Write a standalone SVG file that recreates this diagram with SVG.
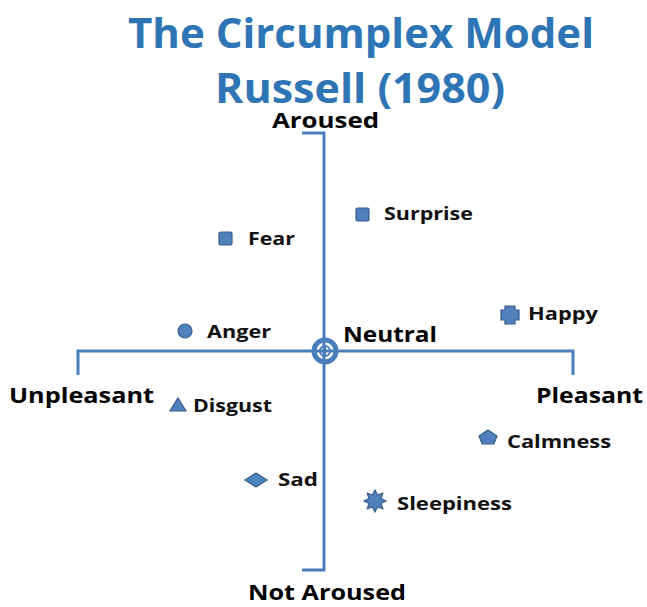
<svg xmlns="http://www.w3.org/2000/svg" width="647" height="607" viewBox="0 0 647 607">
<style>
.title{font-family:"Open Sans","Liberation Sans",sans-serif;font-weight:bold;font-size:42px;fill:#2E75B6;text-anchor:middle}
.axis{font-family:"Open Sans","Liberation Sans",sans-serif;font-weight:bold;font-size:22px;fill:#000}
.lbl{font-family:"Open Sans","Liberation Sans",sans-serif;font-weight:bold;font-size:18px;fill:#111}
.ax{stroke:#4A7EBB;stroke-width:3;fill:none}
.mk{fill:#4F81BD;stroke:#385D8A;stroke-width:1.2}
</style>
<rect width="647" height="607" fill="#fff"/>
<g id="title">
<text class="title" x="361" y="48" textLength="466" lengthAdjust="spacingAndGlyphs">The Circumplex Model</text>
<text class="title" x="360" y="103" textLength="290" lengthAdjust="spacingAndGlyphs">Russell (1980)</text>
</g>
<g id="connectors">
<polyline class="ax" points="302,133 324,133 324,570 302,570"/>
<polyline class="ax" points="78,375 78,351 573,351 573,375"/>
</g>
<g id="neutral">
<circle cx="325" cy="351" r="11" fill="none" stroke="#4A7EBB" stroke-width="5"/>
<circle cx="325" cy="351" r="5" fill="none" stroke="#4A7EBB" stroke-width="2"/>
<line x1="320" y1="351" x2="330" y2="351" stroke="#4A7EBB" stroke-width="2"/>
<line x1="325" y1="346" x2="325" y2="356" stroke="#4A7EBB" stroke-width="2"/>
<text class="axis" x="343" y="342" textLength="94" lengthAdjust="spacingAndGlyphs">Neutral</text>
</g>
<g id="aroused"><text class="axis" x="272" y="128" textLength="107" lengthAdjust="spacingAndGlyphs">Aroused</text></g>
<g id="not-aroused"><text class="axis" x="248" y="600" textLength="158" lengthAdjust="spacingAndGlyphs">Not Aroused</text></g>
<g id="unpleasant"><text class="axis" x="9" y="403" textLength="145" lengthAdjust="spacingAndGlyphs">Unpleasant</text></g>
<g id="pleasant"><text class="axis" x="536" y="403" textLength="107" lengthAdjust="spacingAndGlyphs">Pleasant</text></g>
<g id="surprise">
<rect class="mk" x="356" y="208" width="13" height="13" rx="1.5"/>
<text class="lbl" x="384" y="220" textLength="89" lengthAdjust="spacingAndGlyphs">Surprise</text>
</g>
<g id="fear">
<rect class="mk" x="219" y="232" width="13" height="13" rx="1.5"/>
<text class="lbl" x="248" y="245" textLength="47" lengthAdjust="spacingAndGlyphs">Fear</text>
</g>
<g id="happy">
<path class="mk" d="M505,306 h10 v4 h4 v10 h-4 v4 h-10 v-4 h-4 v-10 h4 z"/>
<text class="lbl" x="528" y="320" textLength="70" lengthAdjust="spacingAndGlyphs">Happy</text>
</g>
<g id="anger">
<circle class="mk" cx="185" cy="331" r="7"/>
<text class="lbl" x="207" y="338" textLength="64" lengthAdjust="spacingAndGlyphs">Anger</text>
</g>
<g id="disgust">
<polygon class="mk" points="178,398 186,411 170,411"/>
<text class="lbl" x="193" y="412" textLength="79" lengthAdjust="spacingAndGlyphs">Disgust</text>
</g>
<g id="calmness">
<polygon class="mk" points="488,430 497,436 494,444 482,444 479,436"/>
<text class="lbl" x="507" y="448" textLength="104" lengthAdjust="spacingAndGlyphs">Calmness</text>
</g>
<g id="sad">
<polygon class="mk" points="256,473 267,480 256,487 245,480"/>
<text class="lbl" x="278" y="486" textLength="40" lengthAdjust="spacingAndGlyphs">Sad</text>
</g>
<g id="sleepiness">
<polygon class="mk" points="375,490 377.5,495 382.8,493.2 381,498.5 386,501 381,503.5 382.8,508.8 377.5,507 375,512 372.5,507 367.2,508.8 369,503.5 364,501 369,498.5 367.2,493.2 372.5,495"/>
<text class="lbl" x="397" y="510" textLength="115" lengthAdjust="spacingAndGlyphs">Sleepiness</text>
</g>
</svg>
